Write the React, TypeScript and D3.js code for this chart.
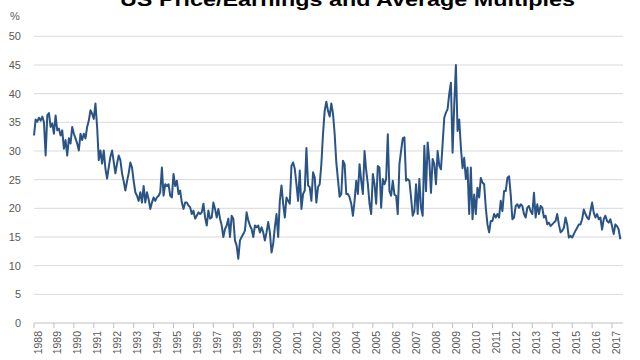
import React from "react";
import * as d3 from "d3";

const years: number[] = d3.range(1988, 2018);
const yTicks: number[] = [0, 5, 10, 15, 20, 25, 30, 35, 40, 45, 50];
const startYear = 1988;

const v1988 = [32.7, 35.5, 35.1, 35.8, 35.3, 36.0, 35.0, 29.2, 36.2, 36.6, 34.2, 34.8];
const v1989 = [33.0, 36.2, 33.6, 33.9, 32.7, 33.6, 30.4, 31.9, 29.2, 32.2, 31.3, 34.2];
const v1990 = [33.0, 32.2, 31.3, 30.1, 33.0, 31.9, 33.0, 32.2, 34.2, 35.3, 37.1, 36.5];
const v1991 = [35.6, 38.3, 34.2, 28.4, 30.1, 27.8, 30.1, 26.9, 25.2, 27.2, 29.0, 30.1];
const v1992 = [28.1, 26.1, 27.8, 29.2, 28.4, 26.1, 24.7, 23.1, 24.7, 26.1, 28.0, 27.1];
const v1993 = [24.8, 22.8, 22.2, 21.3, 22.8, 21.0, 23.9, 21.0, 22.8, 21.6, 19.9, 21.0];
const v1994 = [21.9, 21.3, 21.9, 22.2, 22.8, 27.1, 22.2, 24.2, 23.9, 24.2, 22.2, 21.9];
const v1995 = [26.0, 23.9, 24.8, 22.5, 23.1, 21.0, 19.9, 21.0, 21.0, 20.5, 20.2, 19.0];
const v1996 = [19.6, 18.2, 18.7, 19.3, 19.0, 19.3, 20.8, 18.4, 17.0, 19.6, 18.2, 18.4];
const v1997 = [21.0, 19.9, 18.4, 19.9, 18.2, 17.0, 15.0, 16.4, 17.0, 18.2, 15.0, 18.7];
const v1998 = [18.2, 14.4, 13.5, 11.2, 14.4, 15.0, 15.5, 16.1, 19.3, 17.9, 17.0, 16.4];
const v1999 = [15.0, 17.0, 16.7, 17.0, 15.8, 16.7, 15.8, 14.4, 15.8, 17.6, 15.8, 12.3];
const v2000 = [13.8, 16.7, 19.0, 15.0, 21.3, 24.0, 20.8, 18.4, 21.9, 21.3, 20.8, 27.4];
const v2001 = [28.0, 26.9, 24.2, 21.3, 26.6, 19.9, 22.5, 23.1, 30.5, 24.0, 23.7, 21.3];
const v2002 = [26.3, 25.4, 21.0, 23.7, 24.2, 27.7, 33.0, 37.0, 38.6, 37.0, 36.0, 38.3];
const v2003 = [36.5, 33.0, 28.0, 25.0, 22.0, 22.5, 28.3, 27.7, 22.5, 22.5, 21.9, 20.8];
const v2004 = [18.7, 21.3, 24.8, 22.5, 27.7, 24.8, 22.5, 30.0, 26.6, 24.2, 20.8, 19.0];
const v2005 = [26.0, 24.2, 20.8, 27.4, 27.1, 20.1, 25.1, 24.2, 25.1, 32.9, 23.0, 22.2];
const v2006 = [24.8, 22.4, 22.2, 19.0, 27.7, 30.0, 32.2, 32.4, 24.8, 25.1, 24.8, 21.9];
const v2007 = [18.7, 19.5, 24.2, 19.0, 25.1, 20.1, 18.7, 30.9, 23.0, 31.5, 28.3, 22.7];
const v2008 = [28.6, 27.7, 24.2, 30.0, 27.4, 26.8, 31.2, 35.8, 36.7, 37.3, 40.0, 41.9];
const v2009 = [29.7, 38.0, 45.0, 33.5, 35.5, 30.6, 27.0, 28.8, 25.1, 27.1, 19.0, 27.1];
const v2010 = [18.1, 22.4, 19.0, 23.6, 21.9, 25.3, 24.5, 24.2, 20.1, 17.2, 15.8, 17.8];
const v2011 = [17.8, 19.0, 18.4, 19.0, 18.4, 21.3, 19.5, 23.0, 23.0, 25.3, 25.6, 22.4];
const v2012 = [18.1, 18.4, 20.4, 20.7, 20.1, 20.7, 20.4, 19.0, 18.4, 20.1, 20.4, 19.5];
const v2013 = [19.0, 22.7, 18.4, 20.7, 19.0, 20.4, 20.1, 18.4, 18.7, 17.2, 17.5, 16.9];
const v2014 = [17.2, 17.5, 17.8, 19.0, 17.2, 15.8, 16.1, 16.6, 18.4, 17.2, 14.9, 15.2];
const v2015 = [14.9, 15.5, 16.1, 16.6, 17.2, 17.2, 18.1, 19.8, 19.0, 18.4, 18.1, 19.5];
const v2016 = [21.0, 19.2, 18.4, 19.0, 18.1, 18.4, 16.3, 18.1, 18.7, 17.8, 17.5, 18.1];
const v2017 = [16.9, 15.5, 17.2, 16.9, 16.3, 14.6];

const values: number[] = [
  ...v1988, ...v1989, ...v1990, ...v1991, ...v1992, ...v1993, ...v1994, ...v1995,
  ...v1996, ...v1997, ...v1998, ...v1999, ...v2000, ...v2001, ...v2002, ...v2003,
  ...v2004, ...v2005, ...v2006, ...v2007, ...v2008, ...v2009, ...v2010, ...v2011,
  ...v2012, ...v2013, ...v2014, ...v2015, ...v2016, ...v2017,
];

const title = "US Price/Earnings and Average Multiples";

export default function App() {
  const W = 640, H = 360;
  const left = 34, right = 623, top = 36.3, bottom = 323;
  const x = d3.scaleLinear().domain([0, 354.6]).range([left, right]);
  const y = d3.scaleLinear().domain([0, 50]).range([bottom, top]);
  const line = d3.line<number>().x((_, i) => x(i)).y((d) => y(d)).curve(d3.curveLinear);
  const font = "'Liberation Sans', Arial, sans-serif";
  const grey = "#595959";

  return (
    <svg width={W} height={H} style={{ position: "absolute", left: 0, top: 0, background: "#fff" }}>
      <rect x={0} y={0} width={W} height={H} fill="#fff" />
      <text x={120} y={6} fontFamily={font} fontWeight="bold" fontSize={19} fill="#000" textLength={455} lengthAdjust="spacingAndGlyphs">{title}</text>
      <text x={15} y={20} fontFamily={font} fontSize={11} fill={grey} textAnchor="middle">%</text>
      {yTicks.map((t) => (
        <g key={t}>
          {t > 0 && <line x1={left} x2={right} y1={y(t)} y2={y(t)} stroke="#d9d9d9" strokeWidth={1} />}
          <text x={21} y={y(t) + 4} fontFamily={font} fontSize={11} fill={grey} textAnchor="end">{t}</text>
        </g>
      ))}
      <line x1={left} x2={right} y1={bottom} y2={bottom} stroke="#bfbfbf" strokeWidth={1} />
      {years.map((yr) => {
        const xx = x((yr - startYear) * 12);
        return (
          <g key={yr}>
            <line x1={xx} x2={xx} y1={bottom} y2={bottom + 5} stroke="#bfbfbf" strokeWidth={1} />
            <text transform={`translate(${xx + 7.5},${bottom + 8}) rotate(-90)`} fontFamily={font} fontSize={10.5} fill={grey} textAnchor="end">{yr}</text>
          </g>
        );
      })}
      <path d={line(values) || ""} fill="none" stroke="#2b5486" strokeWidth={2} strokeLinejoin="round" />
    </svg>
  );
}
